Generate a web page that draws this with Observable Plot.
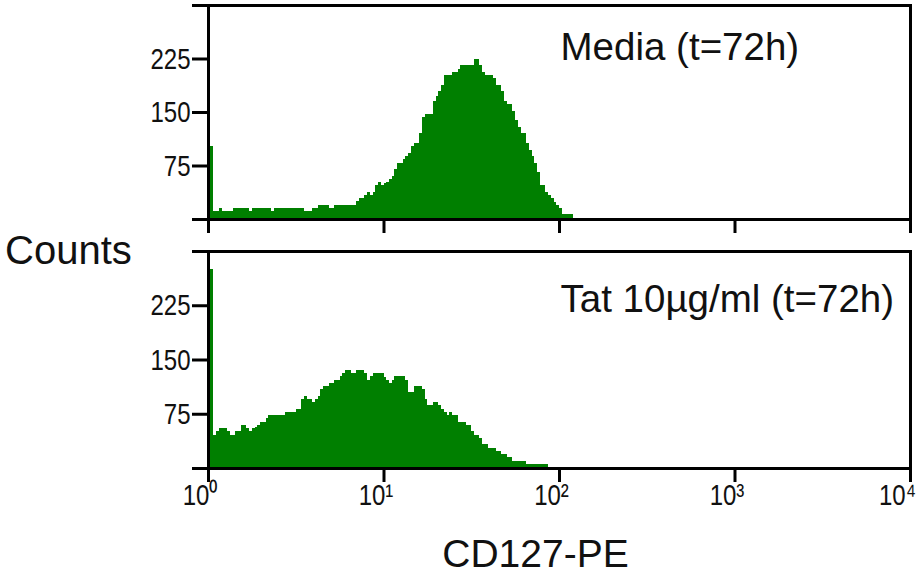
<!DOCTYPE html>
<html>
<head>
<meta charset="utf-8">
<script src="https://cdn.jsdelivr.net/npm/d3@7"></script>
<script src="https://cdn.jsdelivr.net/npm/@observablehq/plot@0.6"></script>
<style>
  body { margin: 0; background: #fff; }
  #fig { position: relative; width: 923px; height: 577px; overflow: hidden;
         font-family: 'Liberation Sans', Arial, sans-serif; color: #111; background: #fff; }
  #fig svg { position: absolute; left: 0; }
  .lbl { position: absolute; font-size: 39px; line-height: 39px; white-space: nowrap; }
</style>
</head>
<body>
<div id="fig"></div>
<script>
// CD127-PE flow cytometry histograms, 256 log channels over 4 decades (64 per decade)
const channelsPerDecade = 64;

// Events per channel, starting at channel 0 (10^0)
const mediaCounts = [
  102,102,11,11,15,11,11,11,11,15,
  15,15,15,15,15,11,15,15,15,15,
  15,15,15,11,15,15,15,15,15,15,
  15,15,15,15,15,11,11,11,15,15,
  20,20,20,20,15,15,20,20,20,20,
  20,20,20,20,25,29,29,34,38,34,
  38,48,52,48,50,52,56,60,70,78,
  78,84,88,92,102,106,106,121,143,147,
  147,147,165,172,179,188,202,202,202,206,
  206,210,216,216,216,216,216,224,224,216,
  206,202,202,202,198,188,188,179,165,161,
  161,151,139,129,121,121,106,97,88,78,
  66,48,48,38,34,29,24,20,15,7,
  7,7,7
];

const tatCounts = [
  275,275,46,51,55,55,55,51,46,46,
  51,51,59,59,55,51,55,57,59,64,
  64,69,73,73,73,73,73,73,77,77,
  77,77,81,81,95,100,95,95,91,95,
  100,109,113,113,118,118,122,122,127,131,
  135,135,131,131,135,135,135,131,122,127,
  131,131,131,131,126,122,118,122,127,127,
  127,127,122,105,105,113,113,113,109,95,
  87,87,91,91,87,82,77,73,77,73,
  73,64,64,64,59,59,51,46,46,42,
  33,33,28,28,28,24,24,19,19,15,
  15,10,10,10,10,10,6,6,6,6,
  6,6,6,6
];

const panelLabels = ["Media (t=72h)", "Tat 10\u00B5g/ml (t=72h)"];
const decadeTicks = [1, 10, 100, 1000, 10000];
const countTicks = [0, 75, 150, 225, 300];
const yAxisTitle = "Counts";
const xAxisTitle = "CD127-PE";

const GREEN = "#007f00";
const textFont = "'Liberation Sans', Arial, sans-serif";
const NARROW = 0.8; // horizontal squeeze of the tick labels
const SUPERSCRIPT = "\u2070\u00B9\u00B2\u00B3\u2074\u2075\u2076\u2077\u2078\u2079";

function toBins(counts) {
  return counts.map((count, i) => ({
    lo: 10 ** (i / channelsPerDecade),
    hi: 10 ** ((i + 1) / channelsPerDecade),
    count
  }));
}

const decadeLabel = d => "10" + SUPERSCRIPT[Math.round(Math.log10(d))];

function panel({counts, label, labelY, height, marginTop, marginBottom, showTickLabels}) {
  return Plot.plot({
    width: 923,
    height,
    marginLeft: 208,
    marginRight: 13,
    marginTop,
    marginBottom,
    style: {fontFamily: textFont, fontSize: "30px", color: "#111", background: "transparent"},
    x: {type: "log", domain: [1, 10000]},
    y: {domain: [0, 300]},
    marks: [
      Plot.rectY(toBins(counts), {x1: "lo", x2: "hi", y: "count", fill: GREEN, shapeRendering: "crispEdges"}),
      Plot.frame({stroke: "#000", strokeWidth: 3}),
      Plot.axisY({
        ticks: countTicks, tickSize: 16, tickPadding: 2, strokeWidth: 3, stroke: "#000",
        tickFormat: d => (d > 0 && d < 300 ? String(d) : ""), label: null
      }),
      Plot.axisX({
        ticks: decadeTicks, tickSize: 14, tickPadding: 1, strokeWidth: 3, stroke: "#000",
        tickFormat: showTickLabels ? decadeLabel : () => "",
        label: null
      }),
      Plot.text([label], {
        x: () => 10 ** 2.006, y: () => labelY, text: d => d,
        textAnchor: "start", lineAnchor: "bottom",
        fontSize: 38.5, fontFamily: textFont, fill: "#111"
      })
    ]
  });
}

// Squeeze tick label glyphs horizontally (condensed look)
function condense(svg) {
  svg.querySelectorAll('g[aria-label$="tick label"] text').forEach(t => {
    if (!t.textContent) return;
    const w = t.getComputedTextLength();
    t.setAttribute("textLength", (w * NARROW).toFixed(1));
    t.setAttribute("lengthAdjust", "spacingAndGlyphs");
  });
}

const fig = document.getElementById("fig");

const mediaPanel = panel({counts: mediaCounts, label: panelLabels[0], labelY: 224,
  height: 240, marginTop: 5, marginBottom: 21, showTickLabels: false});
mediaPanel.style.top = "0px";
fig.appendChild(mediaPanel);

const tatPanel = panel({counts: tatCounts, label: panelLabels[1], labelY: 216,
  height: 337, marginTop: 11, marginBottom: 109, showTickLabels: true});
tatPanel.style.top = "240px";
fig.appendChild(tatPanel);

condense(mediaPanel);
condense(tatPanel);

// Decade labels sit a little left of their ticks; the last one is kept inside the edge
const xLabels = [...tatPanel.querySelectorAll('g[aria-label="x-axis tick label"] text')];
xLabels.forEach((t, i) => t.setAttribute("dx", i === xLabels.length - 1 ? -13 : -8));

const yl = document.createElement("div");
yl.className = "lbl";
yl.textContent = yAxisTitle;
yl.style.left = "5px";
yl.style.top = "231px";
yl.style.fontSize = "40px";
fig.appendChild(yl);

const xl = document.createElement("div");
xl.className = "lbl";
xl.textContent = xAxisTitle;
xl.style.left = "535.5px";
xl.style.top = "534px";
xl.style.transform = "translateX(-50%)";
fig.appendChild(xl);
</script>
</body>
</html>
